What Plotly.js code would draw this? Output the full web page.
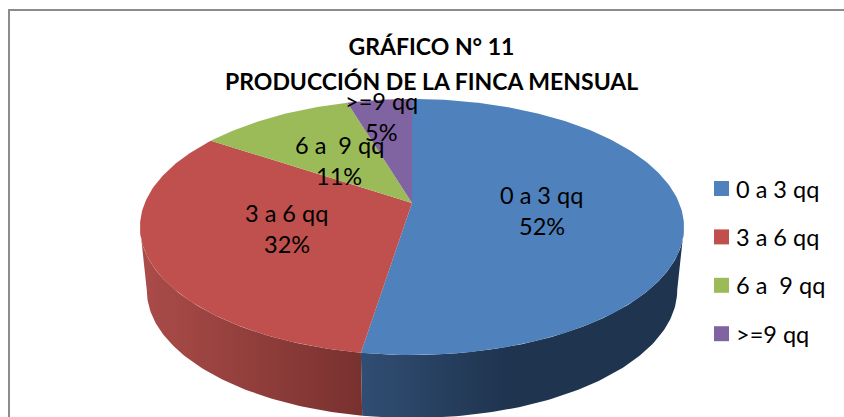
<!DOCTYPE html>
<html>
<head>
<meta charset="utf-8">
<script src="https://cdn.plot.ly/plotly-3.0.1.min.js"></script>
<style>html,body{margin:0;padding:0;background:#fff}#chart{width:844px;height:417px}</style>
</head>
<body>
<div id="chart"></div>
<script>
// Data
const categories = ['0 a 3 qq', '3 a 6 qq', '6 a  9 qq', '>=9 qq'];
const shares = [52.49, 31.9, 11, 4.61];
const topColors = ['#4F81BD', '#C0504D', '#9BBB59', '#8064A2'];
const wallScales = [
  [[0, '#304E73'], [0.45, '#1F344F'], [1, '#1F344F']],
  [[0, '#AB4C49'], [1, '#78312F']]
];
const titleLines = ['GRÁFICO N° 11', 'PRODUCCIÓN DE LA FINCA MENSUAL'];

// Perspective pie geometry (axis units equal page pixels)
const apex = {x: 412, y: 203};
const k = 0.1875, B = 267.2, A = 123.5;
const wallDepth = 63, wallScale = 0.975;
const silhouetteRight = 0.28, silhouetteLeft = 0.72;

function project(turn, r) {
  const th = turn * 2 * Math.PI;
  const u = r * Math.sin(th), v = -r * Math.cos(th);
  const d = 1 - k * v;
  return {x: B * u / d, y: A * v / d};
}
function arc(t0, t1) {
  const n = Math.max(4, Math.ceil(Math.abs(t1 - t0) * 360));
  const pts = [];
  for (let i = 0; i <= n; i++) pts.push(t0 + (t1 - t0) * i / n);
  return pts;
}
const total = shares.reduce((a, b) => a + b, 0);
const bounds = [0];
shares.forEach(s => bounds.push(bounds[bounds.length - 1] + s / total));

const traces = [];
// Front wall: visible part of the first two slices
[[silhouetteRight, bounds[1], 0], [bounds[1], silhouetteLeft, 1]].forEach(([a, b, idx]) => {
  const ts = arc(a, b);
  const upper = ts.map(t => project(t, 1));
  const lower = ts.slice().reverse().map(t => project(t, 1));
  const xs = upper.map(p => apex.x + p.x).concat(lower.map(p => apex.x + p.x * wallScale));
  const ys = upper.map(p => apex.y + p.y).concat(lower.map(p => apex.y + p.y + wallDepth));
  traces.push({
    type: 'scatter', mode: 'lines', x: xs.concat(xs[0]), y: ys.concat(ys[0]),
    fill: 'toself', line: {width: 0},
    fillgradient: {type: 'horizontal', colorscale: wallScales[idx]},
    hoverinfo: 'skip', showlegend: false
  });
});
// Top face
shares.forEach((s, i) => {
  const pts = arc(bounds[i], bounds[i + 1]).map(t => project(t, 1));
  traces.push({
    type: 'scatter', mode: 'lines',
    x: [apex.x].concat(pts.map(p => apex.x + p.x), apex.x),
    y: [apex.y].concat(pts.map(p => apex.y + p.y), apex.y),
    fill: 'toself', fillcolor: topColors[i], line: {width: 0},
    name: categories[i], text: categories[i], hoverinfo: 'text', showlegend: false
  });
});

const fontFamily = 'Lato, Carlito, Calibri, sans-serif';
const textFont = {family: fontFamily, size: 23.5, color: '#000'};
const annotations = [];

// Second title line
annotations.push({x: 431.5, y: 81, xref: 'x', yref: 'y', text: '<b>' + titleLines[1] + '</b>', showarrow: false,
  font: {family: fontFamily, size: 23, color: '#000'}, xanchor: 'center', yanchor: 'middle'});

// Labels on slices, placed from each slice's mid angle
const labelRadius = [0.48, 0.5, 0.45, 0.8];
const labelNudge = [[1, 3], [2, 0], [-6, -1], [-4, -1]];
shares.forEach((s, i) => {
  const p = project((bounds[i] + bounds[i + 1]) / 2, labelRadius[i]);
  const cx = apex.x + p.x + labelNudge[i][0], cy = apex.y + p.y + labelNudge[i][1];
  [[categories[i], -15.5], [Math.round(s) + '%', 15.5]].forEach(([t, dy]) => {
    annotations.push({x: cx, y: cy + dy, xref: 'x', yref: 'y', text: t, showarrow: false,
      font: textFont, xanchor: 'center', yanchor: 'middle'});
  });
});

// Legend column
const legendX = 721.5, legendTop = 188.5, legendStep = 48.4;
categories.forEach((c, i) => {
  const y = legendTop + i * legendStep;
  traces.push({type: 'scatter', mode: 'markers', x: [legendX], y: [y], name: c,
    marker: {symbol: 'square', size: 15, color: topColors[i]}, showlegend: false, hoverinfo: 'name'});
  annotations.push({x: legendX + 12.5, y: y, xref: 'x', yref: 'y', text: c, showarrow: false,
    font: textFont, xanchor: 'left', yanchor: 'middle'});
});

const layout = {
  width: 844, height: 417,
  margin: {l: 0, r: 0, t: 0, b: 0},
  paper_bgcolor: '#fff', plot_bgcolor: '#fff',
  showlegend: false,
  title: {
    text: '<b>' + titleLines[0] + '</b>',
    x: 431.5 / 844, xanchor: 'center', y: 1 - 47 / 417, yanchor: 'middle',
    font: {family: fontFamily, size: 23, color: '#000'}
  },
  xaxis: {range: [0, 844], visible: false, fixedrange: true},
  yaxis: {range: [417, 0], visible: false, fixedrange: true},
  annotations: annotations,
  shapes: [
    {type: 'line', xref: 'x', yref: 'y', x0: 9, x1: 9, y0: 9, y1: 417, line: {color: '#8C8C8C', width: 2}},
    {type: 'line', xref: 'x', yref: 'y', x0: 8, x1: 844, y0: 10, y1: 10, line: {color: '#8C8C8C', width: 2}}
  ]
};
Plotly.newPlot('chart', traces, layout, {displayModeBar: false, staticPlot: true});
</script>
</body>
</html>
